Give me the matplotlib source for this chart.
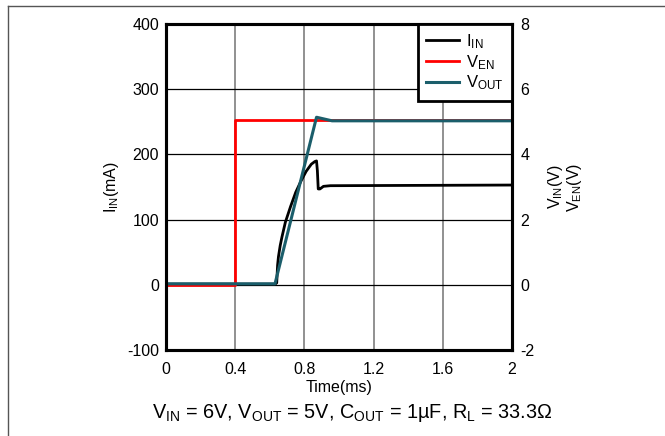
import matplotlib
matplotlib.use("Agg")
import matplotlib.pyplot as plt
from matplotlib.lines import Line2D

plt.rcParams['font.family'] = ['Liberation Sans', 'DejaVu Sans']
plt.rcParams['mathtext.fontset'] = 'custom'
plt.rcParams['mathtext.rm'] = 'Liberation Sans'
plt.rcParams['mathtext.it'] = 'Liberation Sans'
plt.rcParams['mathtext.bf'] = 'Liberation Sans'
plt.rcParams['axes.unicode_minus'] = False

# ---- data ----
t_iin = [0, 0.63, 0.64, 0.645, 0.65, 0.66, 0.67, 0.69, 0.72, 0.75, 0.78, 0.81, 0.84,
         0.86, 0.87, 0.875, 0.88, 0.89, 0.91, 0.95, 2.0]
iin = [1, 1, 3, 30, 43, 60, 73, 96, 120, 142, 159, 174, 185,
       189, 190, 175, 147, 147, 151, 152, 153]

t_ven = [0, 0.4, 0.4, 2.0]
ven = [-0.02, -0.02, 5.06, 5.06]

t_vout = [0, 0.63, 0.87, 0.96, 2.0]
vout = [0.03, 0.03, 5.14, 5.03, 5.03]

xticks = [0, 0.4, 0.8, 1.2, 1.6, 2.0]
xtick_labels = ['0', '0.4', '0.8', '1.2', '1.6', '2']
yticks_left = [-100, 0, 100, 200, 300, 400]
yticks_right = [-2, 0, 2, 4, 6, 8]

labels = [r'$\mathregular{I_{IN}}$', r'$\mathregular{V_{EN}}$', r'$\mathregular{V_{OUT}}$']
colors = ['black', '#ff0000', '#1b5e6b']

W, H = 665, 436
FS = 11.5
fig = plt.figure(figsize=(W / 100, H / 100), dpi=100)
ax = fig.add_axes([166 / W, 1 - 350 / H, (512 - 166) / W, (350 - 24) / H])
ax2 = ax.twinx()

ax.set_xlim(0, 2)
ax.set_ylim(-100, 400)
ax2.set_ylim(-2, 8)

ax.set_xticks(xticks)
ax.set_xticklabels(xtick_labels)
ax.set_yticks(yticks_left)
ax2.set_yticks(yticks_right)

for a in (ax, ax2):
    a.tick_params(length=0, labelsize=FS)
    for s in a.spines.values():
        s.set_linewidth(2.2)
        s.set_color('black')
ax.tick_params(axis='x', pad=9)
ax.tick_params(axis='y', pad=5)
ax2.tick_params(axis='y', pad=6)

ax.grid(axis='x', color='#888888', lw=1.3)
ax.grid(axis='y', color='black', lw=0.9)
ax.set_axisbelow(True)

l1, = ax.plot(t_iin, iin, color=colors[0], lw=2.0, label=labels[0])
l2, = ax2.plot(t_ven, ven, color=colors[1], lw=2.0, label=labels[1])
l3, = ax2.plot(t_vout, vout, color=colors[2], lw=2.2, label=labels[2])

ax.set_xlabel('Time(ms)', fontsize=FS, labelpad=2)
ax.set_ylabel(r'$\mathregular{I_{IN}}$(mA)', fontsize=FS, labelpad=4)
ax2.set_ylabel(r'$\mathregular{V_{IN}}$(V)' + '\n' + r'$\mathregular{V_{EN}}$(V)',
               fontsize=FS, labelpad=8, linespacing=1.0)

leg = ax2.legend(handles=[l1, l2, l3], loc='upper right', fontsize=12,
                 frameon=True, fancybox=False, borderaxespad=0,
                 handlelength=2.0, labelspacing=0.12, borderpad=0.5,
                 handletextpad=0.4)
leg.get_frame().set_edgecolor('black')
leg.get_frame().set_linewidth(2.0)
leg.get_frame().set_alpha(1)

fig.text(352 / W, 1 - 418 / H,
         r'$\mathregular{V_{IN}}$ = 6V, $\mathregular{V_{OUT}}$ = 5V, '
         r'$\mathregular{C_{OUT}}$ = 1µF, $\mathregular{R_{L}}$ = 33.3Ω',
         ha='center', va='baseline', fontsize=14.3)

# outer frame lines
fig.add_artist(Line2D([8 / W, 1], [1 - 6 / H, 1 - 6 / H], color='#555555', lw=1.0))
fig.add_artist(Line2D([8 / W, 8 / W], [0, 1 - 6 / H], color='#555555', lw=1.0))

fig.savefig('out.png', dpi=100)
